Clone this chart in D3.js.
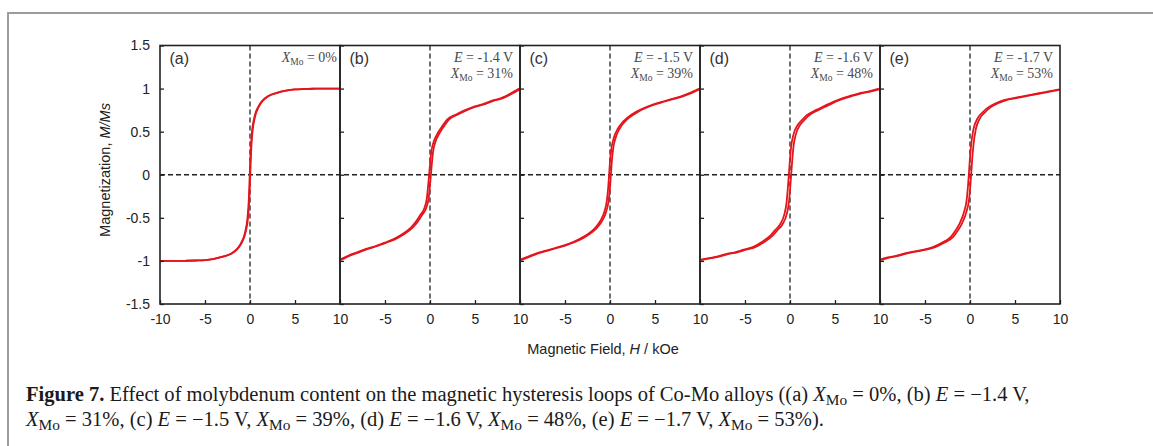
<!DOCTYPE html>
<html>
<head>
<meta charset="utf-8">
<script src="https://cdn.jsdelivr.net/npm/d3@7"></script>
<style>
  body { margin: 0; background: #fff; }
  svg { display: block; }
</style>
</head>
<body>
<svg id="chart" width="1153" height="446"></svg>
<script>
const panelLabels = ["(a)", "(b)", "(c)", "(d)", "(e)"];
const potentials = ["", "-1.4 V", "-1.5 V", "-1.6 V", "-1.7 V"];
const moContents = ["0%", "31%", "39%", "48%", "53%"];
// half-width of the loop, kOe
const coercivity = [0.03, 0.1, 0.1, 0.13, 0.13];

const fieldGrid = [-10, -9, -8, -7, -6, -5, -4, -3, -2, -1.5, -1, -0.5, -0.25, -0.1,
  0, 0.1, 0.25, 0.5, 1, 1.5, 2, 3, 4, 5, 6, 7, 8, 9, 10];

const magA = [-1, -1, -1, -0.998, -0.995, -0.99, -0.975, -0.95, -0.91, -0.87, -0.8, -0.66, -0.5, -0.28,
  0, 0.28, 0.5, 0.66, 0.8, 0.87, 0.91, 0.95, 0.975, 0.99, 0.995, 0.998, 1, 1, 1];
const magB = [-0.99, -0.94, -0.9, -0.86, -0.83, -0.79, -0.75, -0.69, -0.61, -0.55, -0.47, -0.38, -0.27, -0.12,
  0, 0.12, 0.27, 0.38, 0.49, 0.57, 0.64, 0.7, 0.75, 0.79, 0.82, 0.86, 0.89, 0.94, 1];
const magC = [-0.99, -0.95, -0.91, -0.88, -0.85, -0.82, -0.78, -0.73, -0.66, -0.61, -0.54, -0.42, -0.3, -0.15,
  0, 0.15, 0.3, 0.42, 0.54, 0.61, 0.66, 0.73, 0.78, 0.82, 0.85, 0.88, 0.91, 0.95, 1];
const magD = [-0.99, -0.97, -0.95, -0.92, -0.9, -0.87, -0.84, -0.78, -0.7, -0.64, -0.58, -0.46, -0.32, -0.14,
  0, 0.14, 0.32, 0.46, 0.58, 0.64, 0.69, 0.75, 0.8, 0.85, 0.89, 0.92, 0.95, 0.97, 1];
const magE = [-0.99, -0.96, -0.94, -0.91, -0.89, -0.87, -0.84, -0.79, -0.72, -0.65, -0.56, -0.42, -0.3, -0.14,
  0, 0.16, 0.34, 0.52, 0.66, 0.72, 0.77, 0.83, 0.87, 0.89, 0.91, 0.93, 0.95, 0.97, 0.99];
const magnetization = [magA, magB, magC, magD, magE];

const xTickValues = [-10, -5, 0, 5, 10];
const yTickValues = [-1.5, -1, -0.5, 0, 0.5, 1, 1.5];

const sans = "'Liberation Sans', Arial, sans-serif";
const serif = "'Liberation Serif', 'Times New Roman', serif";
const red = "#e3161d";
const plain = d => String(d); // keeps the hyphen minus of the original

const svg = d3.select("#chart");
const plotLeft = 160, panelWidth = 180, plotTop = 45.5, plotBottom = 304;
const plotRight = plotLeft + panelWidth * panelLabels.length;

const y = d3.scaleLinear().domain([-1.5, 1.5]).range([plotBottom, plotTop]);

// outer figure box (only left and top edges are visible)
svg.append("path")
  .attr("d", "M8,470V13H1170")
  .attr("fill", "none")
  .attr("stroke", "#9c9c9c")
  .attr("stroke-width", 2);

const defs = svg.append("defs");

// horizontal zero line across all panels
svg.append("line")
  .attr("x1", plotLeft).attr("x2", plotRight)
  .attr("y1", y(0)).attr("y2", y(0))
  .attr("stroke", "#222").attr("stroke-width", 1.3)
  .attr("stroke-dasharray", "5,3");

panelLabels.forEach((label, i) => {
  const x0 = plotLeft + i * panelWidth;
  const x = d3.scaleLinear().domain([-10, 10]).range([x0, x0 + panelWidth]);
  const g = svg.append("g");

  defs.append("clipPath").attr("id", "clip" + i)
    .append("rect")
    .attr("x", x0).attr("y", plotTop - 2)
    .attr("width", panelWidth).attr("height", plotBottom - plotTop + 4);

  // vertical zero line
  g.append("line")
    .attr("x1", x(0)).attr("x2", x(0))
    .attr("y1", plotTop).attr("y2", plotBottom)
    .attr("stroke", "#222").attr("stroke-width", 1.3)
    .attr("stroke-dasharray", "5,3");

  // loop: descending and ascending branches
  const mags = magnetization[i];
  const hc = coercivity[i];
  const branches = [
    fieldGrid.map((h, k) => [h - hc, mags[k]]),
    fieldGrid.map((h, k) => [h + hc, mags[k]])
  ];
  const line = d3.line()
    .x(d => x(d[0]))
    .y(d => y(d[1]))
    .curve(d3.curveMonotoneX);
  g.append("g")
    .attr("clip-path", `url(#clip${i})`)
    .selectAll("path")
    .data(branches)
    .join("path")
    .attr("d", line)
    .attr("fill", "none")
    .attr("stroke", red)
    .attr("stroke-width", 1.8);

  // x axis, ticks pointing inward
  const xAxis = g.append("g")
    .attr("transform", `translate(0,${plotBottom})`)
    .call(d3.axisBottom(x)
      .tickValues(i === 0 ? xTickValues : xTickValues.slice(1))
      .tickFormat(plain)
      .tickSizeInner(-4).tickSizeOuter(0).tickPadding(10));
  xAxis.select(".domain").remove();
  xAxis.attr("font-family", sans).attr("font-size", 14);
  xAxis.selectAll("line").attr("stroke", "#222").attr("stroke-width", 1.3);
  xAxis.selectAll("text").attr("fill", "#222");

  // y axis on each panel's left edge, labels only on the first one
  const yAxis = g.append("g")
    .attr("transform", `translate(${x0},0)`)
    .call(d3.axisLeft(y)
      .tickValues(yTickValues)
      .tickFormat(i === 0 ? plain : "")
      .tickSizeInner(-4).tickSizeOuter(0).tickPadding(10));
  yAxis.select(".domain").remove();
  yAxis.attr("font-family", sans).attr("font-size", 14);
  yAxis.selectAll("line").attr("stroke", "#222").attr("stroke-width", 1.3);
  yAxis.selectAll("text").attr("fill", "#222");

  // panel frame
  g.append("rect")
    .attr("x", x0).attr("y", plotTop)
    .attr("width", panelWidth).attr("height", plotBottom - plotTop)
    .attr("fill", "none")
    .attr("stroke", "#222")
    .attr("stroke-width", 1.6);

  // panel letter
  g.append("text")
    .attr("x", x0 + 9.5).attr("y", 64)
    .attr("font-family", sans).attr("font-size", 16)
    .attr("fill", "#333")
    .text(label);

  // annotation in the upper right corner
  const note = g.append("text")
    .attr("font-family", serif).attr("font-size", 14)
    .attr("fill", "#4a4a4a")
    .attr("text-anchor", "end");
  const noteRight = x0 + panelWidth - (i === 0 ? 3 : 7);
  let lineY = 62;
  if (potentials[i]) {
    const l1 = note.append("tspan").attr("x", noteRight).attr("y", lineY);
    l1.append("tspan").attr("font-style", "italic").text("E");
    l1.append("tspan").text(" = " + potentials[i]);
    lineY = 78;
  }
  const l2 = note.append("tspan").attr("x", noteRight).attr("y", lineY);
  l2.append("tspan").attr("font-style", "italic").text("X");
  l2.append("tspan").attr("font-size", 9.5).attr("dy", 3).text("Mo");
  l2.append("tspan").attr("dy", -3).text(" = " + moContents[i]);
});

// axis titles
const yTitle = svg.append("text")
  .attr("transform", `translate(110,170) rotate(-90)`)
  .attr("text-anchor", "middle")
  .attr("font-family", sans).attr("font-size", 14.5)
  .attr("fill", "#222");
yTitle.append("tspan").text("Magnetization, ");
yTitle.append("tspan").attr("font-style", "italic").text("M/Ms");

const xTitle = svg.append("text")
  .attr("x", 603).attr("y", 354)
  .attr("text-anchor", "middle")
  .attr("font-family", sans).attr("font-size", 14.5)
  .attr("fill", "#222");
xTitle.append("tspan").text("Magnetic Field, ");
xTitle.append("tspan").attr("font-style", "italic").text("H");
xTitle.append("tspan").text(" / kOe");

// caption
const minus = s => s.replace("-", "\u2212");
const xPart = pct => [["X", "i"], ["Mo", "s"], [" = " + pct, ""]];
const ePart = v => [["E", "i"], [" = " + minus(v), ""]];
const captionLine1 = [
  ["Figure 7.", "b"],
  [" Effect of molybdenum content on the magnetic hysteresis loops of Co-Mo alloys ((a) ", ""],
  ...xPart(moContents[0]), [", (b) ", ""], ...ePart(potentials[1]), [",", ""]
];
const captionLine2 = [
  ...xPart(moContents[1]), [", (c) ", ""], ...ePart(potentials[2]), [", ", ""],
  ...xPart(moContents[2]), [", (d) ", ""], ...ePart(potentials[3]), [", ", ""],
  ...xPart(moContents[3]), [", (e) ", ""], ...ePart(potentials[4]), [", ", ""],
  ...xPart(moContents[4]), [").", ""]
];

const caption = svg.append("text")
  .attr("font-family", serif).attr("font-size", 16)
  .attr("fill", "#1a1a1a");

function writeLine(parts, baseline) {
  const t = caption.append("tspan").attr("x", 26).attr("y", baseline);
  let shifted = false;
  parts.forEach(([s, kind]) => {
    const sp = t.append("tspan").text(s);
    if (kind === "b") sp.attr("font-weight", "bold");
    if (kind === "i") sp.attr("font-style", "italic");
    if (kind === "s") { sp.attr("font-size", "0.75em").attr("dy", 4); shifted = true; }
    else if (shifted) { sp.attr("dy", -4); shifted = false; }
  });
  return t;
}
const firstLine = writeLine(captionLine1, 401);
writeLine(captionLine2, 426);

// fit the first line to the width it has in the figure
const len = firstLine.node().getComputedTextLength();
caption.attr("font-size", 16 * 1004 / len);
</script>
</body>
</html>
